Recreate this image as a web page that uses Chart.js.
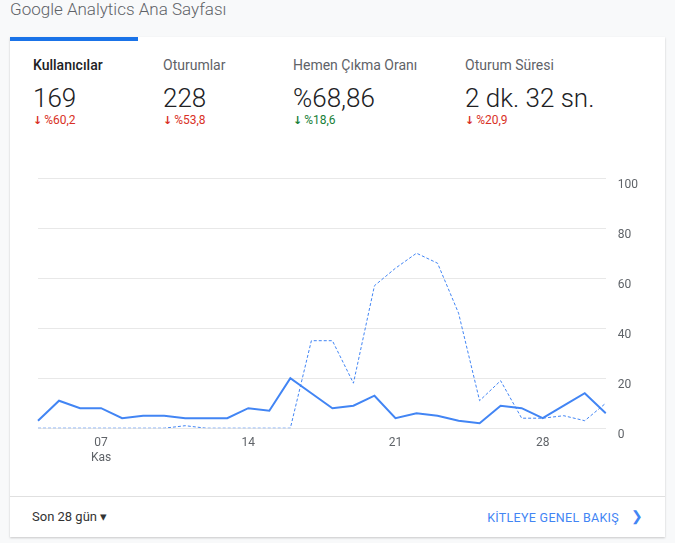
<!DOCTYPE html>
<html lang="tr">
<head>
  <meta charset="UTF-8">
  <title>Google Analytics Ana Sayfası</title>
  <style>
    body { margin: 0; background: #f8f9fa; font-family: 'Roboto', sans-serif; width: 675px; height: 543px; overflow: hidden; position: relative; }
    .title { position: absolute; left: 10px; top: -1px; font-size: 17px; font-weight: 300; color: #5f6368; }
    .card { position: absolute; left: 10px; top: 37px; width: 655px; height: 500px; background: #fff; box-shadow: 0 1px 2px rgba(0,0,0,0.2); }
    .tab { position: absolute; left: 0; top: 0; width: 128px; height: 4px; background: #1a73e8; }
    .metric { position: absolute; top: 20px; }
    .metric .lbl { font-size: 14px; color: #5f6368; }
    .metric .val { font-size: 26px; font-weight: 300; color: #202124; margin-top: 10px; }
    .metric .chg { font-size: 12px; margin-top: 0px; }
    .metric .chg b { font-family: 'DejaVu Sans', sans-serif; font-size: 11px; margin-right: 2px; }
    .down { color: #d93025; }
    .good { color: #188038; }
    .chart-box { position: absolute; left: 20px; top: 122px; width: 620px; height: 306px; }
    .footer { position: absolute; left: 0; top: 459px; width: 655px; height: 41px; border-top: 1px solid #e0e0e0; }
    .range { position: absolute; left: 22px; top: 12px; font-size: 13px; color: #333; }
    .link { position: absolute; right: 46px; top: 13px; font-size: 12.5px; color: #4285f4; letter-spacing: 0.3px; }
    .chev { position: absolute; right: 22px; top: 11px; font-size: 14px; color: #4285f4; }
  </style>
  <script src="https://cdn.jsdelivr.net/npm/chart.js"></script>
</head>
<body>
  <div class="title">Google Analytics Ana Sayfası</div>
  <div class="card">
    <div class="tab"></div>
    <div class="metric" style="left:23px"><div class="lbl" style="color:#202124;font-weight:500">Kullanıcılar</div><div class="val">169</div><div class="chg down"><b>↓</b>%60,2</div></div>
    <div class="metric" style="left:153px"><div class="lbl">Oturumlar</div><div class="val">228</div><div class="chg down"><b>↓</b>%53,8</div></div>
    <div class="metric" style="left:283px"><div class="lbl">Hemen Çıkma Oranı</div><div class="val">%68,86</div><div class="chg good"><b>↓</b>%18,6</div></div>
    <div class="metric" style="left:455px"><div class="lbl">Oturum Süresi</div><div class="val">2 dk. 32 sn.</div><div class="chg down"><b>↓</b>%20,9</div></div>
    <div class="chart-box"><canvas id="chart"></canvas></div>
    <div class="footer">
      <div class="range">Son 28 gün &#9662;</div>
      <div class="link">KİTLEYE GENEL BAKIŞ</div>
      <div class="chev">&#10095;</div>
    </div>
  </div>
  <script>
    // 4 Kasım - 1 Aralık
    var days = [];
    for (var d = 4; d <= 31; d++) days.push(d > 30 ? '01' : (d < 10 ? '0' + d : '' + d));
    var users = [3, 11, 8, 8, 4, 5, 5, 4, 4, 4, 8, 7, 20, 14, 8, 9, 13, 4, 6, 5, 3, 2, 9, 8, 4, 9, 14, 6];
    var bounce = [0, 0, 0, 0, 0, 0, 0, 1, 0, 0, 0, 0, 0, 35, 35, 18, 57, 64, 70, 66, 46, 11, 19, 4, 4, 5, 3, 10];
    var shown = { 3: ['07', 'Kas'], 10: '14', 17: '21', 24: '28' };

    new Chart(document.getElementById('chart'), {
      type: 'line',
      data: {
        labels: days,
        datasets: [
          { label: 'Kullanıcılar', data: users, borderColor: '#4285f4', borderWidth: 2, pointRadius: 0, tension: 0 },
          { label: 'Hemen Çıkma Oranı', data: bounce, borderColor: '#4285f4', borderWidth: 1, borderDash: [3, 2], pointRadius: 0, tension: 0 }
        ]
      },
      options: {
        responsive: true,
        maintainAspectRatio: false,
        animation: false,
        layout: { padding: { left: 8, right: 0, top: 4, bottom: 0 } },
        plugins: { legend: { display: false }, tooltip: { enabled: false } },
        scales: {
          x: {
            grid: { display: false },
            border: { display: false },
            ticks: {
              autoSkip: false, maxRotation: 0, color: '#5f6368', font: { size: 12, family: 'Roboto' }, padding: 0,
              callback: function (v, i) { return shown[i] || ''; }
            }
          },
          y: {
            position: 'right', min: 0, max: 100,
            border: { display: false },
            grid: { color: '#e8e8e8', drawTicks: false },
            ticks: { stepSize: 20, color: '#5f6368', font: { size: 12, family: 'Roboto' }, padding: 12, labelOffset: 7 }
          }
        }
      }
    });
  </script>
</body>
</html>
